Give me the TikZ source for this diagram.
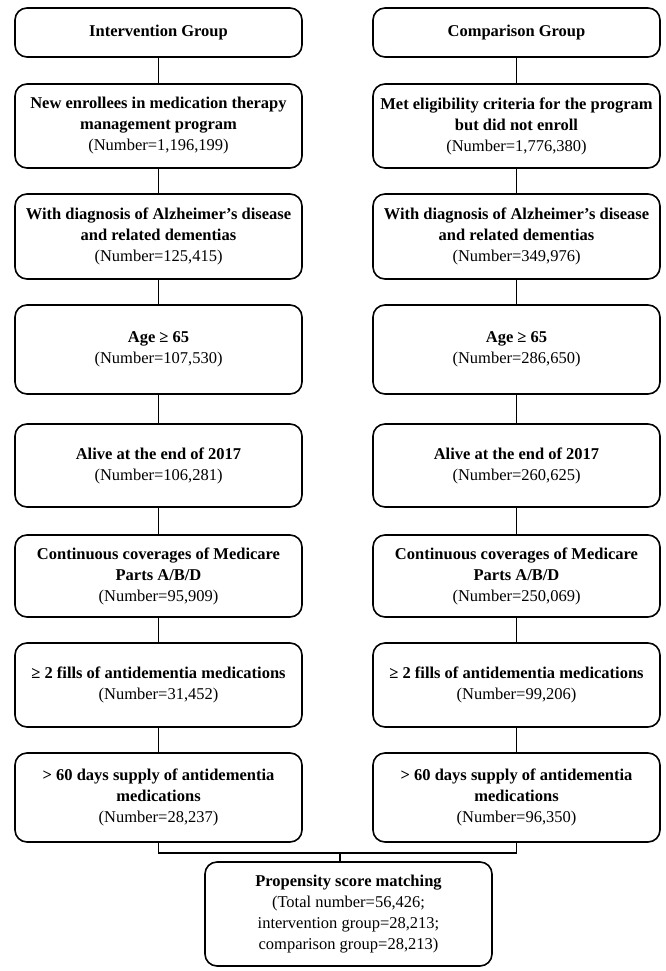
\documentclass[tikz,border=0pt]{standalone}
\usepackage{fontspec}
\setmainfont{Liberation Serif}
\usetikzlibrary{positioning}

\begin{document}
\begin{tikzpicture}[x=1pt,y=-1pt,
  box/.style={draw, line width=1.6pt, rounded corners=12pt, minimum width=287pt,
    align=center, inner sep=2pt, font=\fontsize{16.5}{21}\selectfont},
  link/.style={line width=1.3pt}]
\useasboundingbox (0,0) rectangle (665,971);
% intervention side
\node[box, minimum height=49pt] at (158.5,32.5) (L1) {\textbf{Intervention Group}};
\node[box, minimum height=84pt] at (158.5,126) (L2) {\textbf{New enrollees in medication therapy}\\\textbf{management program}\\(Number=1,196,199)};
\node[box, minimum height=85pt] at (158.5,236.5) (L3) {\textbf{With diagnosis of Alzheimer’s disease}\\\textbf{and related dementias}\\(Number=125,415)};
\node[box, minimum height=89pt] at (158.5,349.5) (L4) {\textbf{Age ≥ 65}\\(Number=107,530)};
\node[box, minimum height=83pt] at (158.5,465.5) (L5) {\textbf{Alive at the end of 2017}\\(Number=106,281)};
\node[box, minimum height=82pt] at (158.5,576) (L6) {\textbf{Continuous coverages of Medicare}\\\textbf{Parts A/B/D}\\(Number=95,909)};
\node[box, minimum height=84pt] at (158.5,685) (L7) {\textbf{≥ 2 fills of antidementia medications}\\(Number=31,452)};
\node[box, minimum height=89pt] at (158.5,797.5) (L8) {\textbf{> 60 days supply of antidementia}\\\textbf{medications}\\(Number=28,237)};
% comparison side
\node[box, minimum height=49pt] at (516.5,32.5) (R1) {\textbf{Comparison Group}};
\node[box, minimum height=84pt] at (516.5,126) (R2) {\textbf{Met eligibility criteria for the program}\\\textbf{but did not enroll}\\(Number=1,776,380)};
\node[box, minimum height=85pt] at (516.5,236.5) (R3) {\textbf{With diagnosis of Alzheimer’s disease}\\\textbf{and related dementias}\\(Number=349,976)};
\node[box, minimum height=89pt] at (516.5,349.5) (R4) {\textbf{Age ≥ 65}\\(Number=286,650)};
\node[box, minimum height=83pt] at (516.5,465.5) (R5) {\textbf{Alive at the end of 2017}\\(Number=260,625)};
\node[box, minimum height=82pt] at (516.5,576) (R6) {\textbf{Continuous coverages of Medicare}\\\textbf{Parts A/B/D}\\(Number=250,069)};
\node[box, minimum height=84pt] at (516.5,685) (R7) {\textbf{≥ 2 fills of antidementia medications}\\(Number=99,206)};
\node[box, minimum height=89pt] at (516.5,797.5) (R8) {\textbf{> 60 days supply of antidementia}\\\textbf{medications}\\(Number=96,350)};
% matching
\node[box, minimum height=104pt] at (348.5,914) (psm) {\textbf{Propensity score matching}\\(Total number=56,426;\\intervention group=28,213;\\comparison group=28,213)};
\coordinate (join) at (340,853);

\foreach \a/\b in {1/2,2/3,3/4,4/5,5/6,6/7,7/8} {
  \draw[link] (L\a.south) -- (L\b.north);
  \draw[link] (R\a.south) -- (R\b.north);
}
\draw[link] (L8.south) |- (join) -| (R8.south);
\draw[link] (join) -- (join |- psm.north);
\end{tikzpicture}
\end{document}
